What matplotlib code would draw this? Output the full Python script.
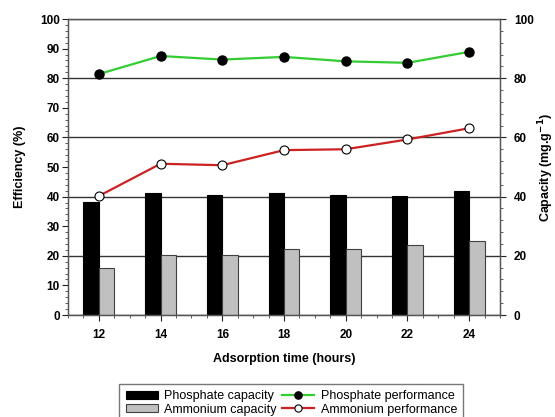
import matplotlib
matplotlib.use("Agg")
import matplotlib.pyplot as plt
from matplotlib.ticker import MultipleLocator

plt.rcParams["font.family"] = ["Liberation Sans", "DejaVu Sans"]

# données
heures = [12, 14, 16, 18, 20, 22, 24]
capacite_phosphate = [38.3, 41.1, 40.7, 41.1, 40.7, 40.2, 41.9]
capacite_ammonium = [16.0, 20.3, 20.3, 22.2, 22.2, 23.6, 25.1]
perf_phosphate = [81.4, 87.5, 86.3, 87.2, 85.7, 85.2, 88.9]
perf_ammonium = [40.2, 51.1, 50.6, 55.7, 56.0, 59.3, 63.1]

fig = plt.figure(figsize=(5.55, 4.17), dpi=100)
ax = fig.add_axes([0.1225, 0.2446, 0.7784, 0.7098])
ax2 = ax.twinx()

# barres de capacité (axe de droite)
largeur = 0.5
b1 = ax2.bar([h - largeur for h in heures], capacite_phosphate, width=largeur,
             align="edge", color="black", edgecolor="black", linewidth=0.8,
             label="Phosphate capacity", zorder=2)
b2 = ax2.bar(heures, capacite_ammonium, width=largeur, align="edge",
             color="#c0c0c0", edgecolor="#404040", linewidth=0.8,
             label="Ammonium capacity", zorder=2)
ax2.set_ylim(0, 100)
ax2.yaxis.set_major_locator(MultipleLocator(20))
ax2.yaxis.set_minor_locator(MultipleLocator(4))
ax2.set_axisbelow(True)
ax2.grid(axis="y", which="major", color="#333333", linewidth=1.0, zorder=0)
ax2.set_ylabel("Capacity (mg.g$^{\\mathbf{-1}}$)", fontsize=9, fontweight="bold")
ax2.yaxis.set_label_coords(1.085, 0.5)

# courbes d'efficacité (axe de gauche, au premier plan)
ax.set_zorder(ax2.get_zorder() + 1)
ax.patch.set_visible(False)
l1, = ax.plot(heures, perf_phosphate, color="#33cc33", linewidth=1.6,
              marker="o", markersize=6.5, markerfacecolor="black",
              markeredgecolor="black", label="Phosphate performance")
l2, = ax.plot(heures, perf_ammonium, color="#cc2222", linewidth=1.6,
              marker="o", markersize=6.5, markerfacecolor="white",
              markeredgecolor="black", markeredgewidth=0.8,
              label="Ammonium performance")
ax.set_ylim(0, 100)
ax.set_xlim(11, 25)
ax.yaxis.set_major_locator(MultipleLocator(10))
ax.yaxis.set_minor_locator(MultipleLocator(2))
ax.xaxis.set_major_locator(MultipleLocator(2))
ax.xaxis.set_minor_locator(MultipleLocator(0.5))
ax.set_xlabel("Adsorption time (hours)", fontsize=9, fontweight="bold", labelpad=9)
ax.set_ylabel("Efficiency (%)", fontsize=9, fontweight="bold", labelpad=10)

for a in (ax, ax2):
    a.tick_params(which="major", direction="out", length=4, width=0.8,
                  labelsize=8.5, colors="#222222", labelcolor="black")
    a.tick_params(which="minor", direction="out", length=2, width=0.6,
                  colors="#444444")
    for lab in a.get_xticklabels() + a.get_yticklabels():
        lab.set_fontweight("bold")
    for s in a.spines.values():
        s.set_color("#555555")
        s.set_linewidth(0.9)
ax.tick_params(axis="x", pad=6)
ax.tick_params(axis="y", pad=2)
ax2.tick_params(axis="y", pad=6)

fig.legend([b1, b2, l1, l2],
           ["Phosphate capacity", "Ammonium capacity",
            "Phosphate performance", "Ammonium performance"],
           ncol=2, loc="upper center", bbox_to_anchor=(0.525, 0.094),
           fontsize=9, frameon=True, fancybox=False, edgecolor="#555555",
           handlelength=2.6, handleheight=0.6, columnspacing=0.4,
           handletextpad=0.5, labelspacing=0.1, borderpad=0.5,
           markerscale=0.8)

fig.savefig("out.png", dpi=100)
